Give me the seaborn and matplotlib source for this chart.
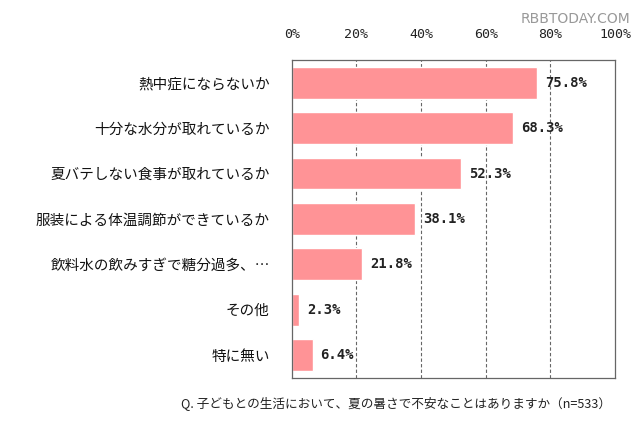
import matplotlib
matplotlib.use("Agg")
import matplotlib.pyplot as plt
import matplotlib.ticker as ticker
import seaborn as sns
import pandas as pd

categories = [
    "熱中症にならないか",
    "十分な水分が取れているか",
    "夏バテしない食事が取れているか",
    "服装による体温調節ができているか",
    "飲料水の飲みすぎで糖分過多、…",
    "その他",
    "特に無い",
]
values = [75.8, 68.3, 52.3, 38.1, 21.8, 2.3, 6.4]
xticks = [0, 20, 40, 60, 80, 100]
caption = "Q. 子どもとの生活において、夏の暑さで不安なことはありますか（n=533）"

df = pd.DataFrame({"item": categories, "pct": values})

sns.set_theme(style="white")
plt.rcParams["font.family"] = ["Noto Sans CJK JP", "DejaVu Sans"]

fig = plt.figure(figsize=(6.4, 4.26), dpi=100)
ax = fig.add_axes([0.456, 0.113, 0.505, 0.746])

sns.barplot(data=df, x="pct", y="item", color="#FF9396", saturation=1,
            width=0.7, ax=ax)

ax.set_xlim(0, 100)
ax.xaxis.set_major_locator(ticker.FixedLocator(xticks))
ax.xaxis.set_major_formatter(ticker.FuncFormatter(lambda v, p: f"{v:.0f}%"))
ax.xaxis.tick_top()
ax.tick_params(axis="x", length=0, pad=14, labelsize=9.5, colors="#222222")
ax.tick_params(axis="y", length=0, pad=16, labelsize=10.5, colors="#111111")
for lab in ax.get_xticklabels():
    lab.set_family(["DejaVu Sans Mono", "DejaVu Sans"])

for v in xticks[1:-1]:
    ax.axvline(v, color="#666666", lw=0.8, ls=(0, (3, 2)), zorder=0)

for s in ax.spines.values():
    s.set_visible(True)
    s.set_color("#666666")
    s.set_linewidth(0.9)

ax.set_xlabel("")
ax.set_ylabel("")

for i, v in enumerate(values):
    ax.text(v + 2.5, i, f"{v:.1f}%", va="center", ha="left", fontsize=10,
            fontweight="bold", color="#222222",
            family=["DejaVu Sans Mono", "DejaVu Sans"])

fig.text(0.955, 0.055, caption, ha="right", va="center", fontsize=9.1, color="#222222")
fig.text(0.985, 0.955, "RBBTODAY.COM", ha="right", va="center", fontsize=10,
         color="#999999", family=["DejaVu Sans"])

fig.savefig("out.png", dpi=100, facecolor="white")
